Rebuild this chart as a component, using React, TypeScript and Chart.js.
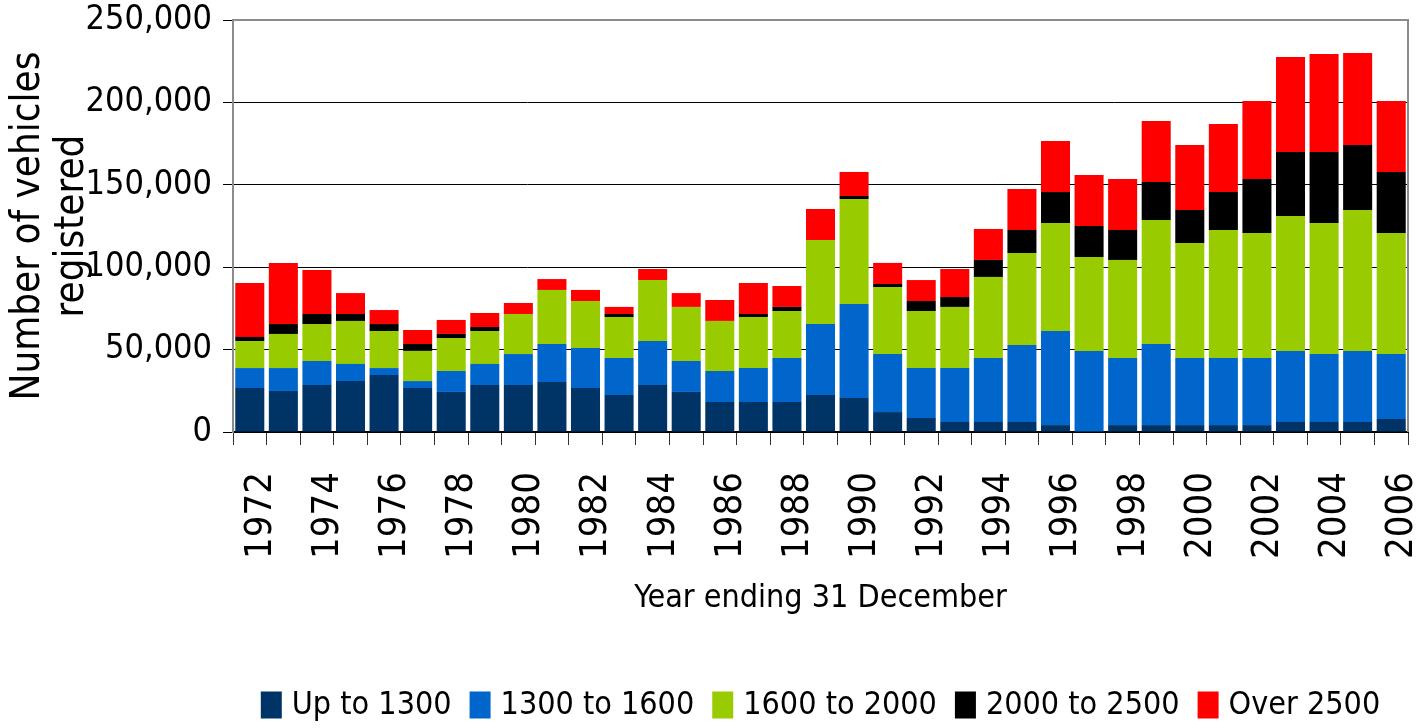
import React, { useEffect, useRef } from 'react';
import { Chart, registerables } from 'chart.js';

Chart.register(...registerables);

const years = [
  '1972', '1973', '1974', '1975', '1976', '1977', '1978', '1979', '1980', '1981',
  '1982', '1983', '1984', '1985', '1986', '1987', '1988', '1989', '1990', '1991',
  '1992', '1993', '1994', '1995', '1996', '1997', '1998', '1999', '2000', '2001',
  '2002', '2003', '2004', '2005', '2006',
];

const upTo1300 = [
  26700, 24900, 28500, 30900, 34600, 26700, 24300, 28500, 28500, 30300,
  26700, 22500, 28500, 24300, 18200, 18200, 18200, 22500, 20600, 12100,
  8500, 6100, 6100, 6100, 4200, 0, 4200, 4200, 4200, 4200,
  4200, 6100, 6100, 6100, 7900,
];

const from1300to1600 = [
  12100, 13900, 14600, 10400, 4200, 4200, 12700, 12800, 18800, 23100,
  24300, 22400, 26700, 18800, 18800, 20600, 26700, 43000, 57100, 35200,
  30300, 32700, 38800, 46700, 57100, 49200, 40700, 49200, 40700, 40700,
  40700, 43100, 41200, 43100, 39400,
];

const from1600to2000 = [
  16400, 20700, 22400, 26100, 22500, 18300, 20000, 20000, 24300, 32800,
  28500, 24900, 37000, 32800, 30400, 31000, 28500, 51000, 63700, 40700,
  34600, 37100, 49200, 55800, 65500, 57000, 59500, 75200, 69800, 77700,
  75900, 81900, 79500, 85500, 73500,
];

const from2000to2500 = [
  2500, 6000, 6100, 4200, 4200, 4200, 2500, 2400, 0, 0,
  0, 1800, 0, 0, 0, 1800, 2500, 0, 1800, 1800,
  6100, 6000, 10300, 14000, 18800, 18800, 18200, 23100, 20000, 23000,
  32700, 38800, 43100, 39500, 37000,
];

const over2500 = [
  32700, 37100, 26700, 12700, 8500, 8500, 8500, 8500, 6700, 6600,
  6700, 4300, 6700, 8400, 12700, 18800, 12700, 18800, 14600, 12800,
  12700, 17000, 18800, 24900, 31000, 30900, 30900, 37000, 39500, 41300,
  47400, 57700, 59500, 55800, 43100,
];

const seriesNames = ['Up to 1300', '1300 to 1600', '1600 to 2000', '2000 to 2500', 'Over 2500'];
const seriesColors = ['#003366', '#0066CC', '#99CC00', '#000000', '#FF0000'];
const yTicks = [0, 50000, 100000, 150000, 200000, 250000];

const FONT = '"DejaVu Sans Condensed", "Liberation Sans Narrow", "DejaVu Sans", sans-serif';

export default function App() {
  const ref = useRef<HTMLCanvasElement>(null);

  useEffect(() => {
    if (!ref.current) return;
    Chart.defaults.font.family = FONT;
    Chart.defaults.color = '#000';

    const framePlugin = {
      id: 'frame',
      afterDatasetsDraw(chart: any) {
        const { ctx, chartArea } = chart;
        ctx.save();
        ctx.strokeStyle = '#8c8c8c';
        ctx.lineWidth = 2;
        ctx.beginPath();
        ctx.moveTo(chartArea.left, chartArea.top);
        ctx.lineTo(chartArea.right, chartArea.top);
        ctx.lineTo(chartArea.right, chartArea.bottom);
        ctx.stroke();
        ctx.restore();
      },
    };

    // Legend drawn from the chart's own datasets, laid out like the original
    const legendPlugin = {
      id: 'customLegend',
      afterDraw(chart: any) {
        const { ctx, chartArea } = chart;
        const boxW = 21;
        const boxH = 27;
        const gapBoxText = 10;
        const gapItems = 18;
        const cy = 705;
        ctx.save();
        ctx.font = `32px ${FONT}`;
        ctx.textBaseline = 'middle';
        ctx.textAlign = 'left';
        const items = chart.data.datasets.map((ds: any) => ({
          text: ds.label,
          color: ds.backgroundColor,
          w: ctx.measureText(ds.label).width,
        }));
        const total =
          items.reduce((s: number, it: any) => s + boxW + gapBoxText + it.w, 0) +
          gapItems * (items.length - 1);
        let x = (chartArea.left + chartArea.right) / 2 - total / 2;
        items.forEach((it: any) => {
          ctx.fillStyle = it.color;
          ctx.fillRect(x, cy - boxH / 2, boxW, boxH);
          x += boxW + gapBoxText;
          ctx.fillStyle = '#000';
          ctx.fillText(it.text, x, cy + 1);
          x += it.w + gapItems;
        });
        ctx.restore();
      },
    };

    const values = [upTo1300, from1300to1600, from1600to2000, from2000to2500, over2500];

    const chart = new Chart(ref.current, {
      type: 'bar',
      data: {
        labels: years,
        datasets: values.map((d, i) => ({
          label: seriesNames[i],
          data: d,
          backgroundColor: seriesColors[i],
          borderWidth: 0,
          categoryPercentage: 1,
          barPercentage: 0.865,
        })),
      },
      options: {
        responsive: false,
        animation: false,
        layout: { padding: { left: 0, right: 18, top: 20, bottom: 46 } },
        plugins: {
          legend: { display: false },
          tooltip: { enabled: false },
        },
        scales: {
          x: {
            stacked: true,
            afterFit(scale: any) {
              scale.height = 250;
              scale.paddingLeft = 0;
              scale.paddingRight = 0;
            },
            grid: {
              offset: true,
              drawOnChartArea: false,
              drawTicks: true,
              tickLength: 13,
              color: '#333',
            },
            border: { display: true, color: '#000', width: 2 },
            ticks: {
              autoSkip: false,
              maxRotation: 90,
              minRotation: 90,
              padding: 27,
              labelOffset: 11,
              color: '#000',
              font: { size: 38, family: FONT, lineHeight: 1.2 },
              callback: (_v: any, i: number) => (i % 2 === 0 ? years[i] : ''),
            },
            title: {
              display: true,
              text: 'Year ending 31 December',
              color: '#000',
              font: { size: 32, family: FONT, lineHeight: 1.2 },
              padding: { top: 0, bottom: 64 },
            },
          },
          y: {
            stacked: true,
            min: 0,
            max: 250000,
            afterFit(scale: any) {
              scale.width = 233;
              scale.paddingTop = 0;
              scale.paddingBottom = 0;
            },
            afterBuildTicks(scale: any) {
              scale.ticks = yTicks.map((v) => ({ value: v }));
            },
            grid: {
              color: '#000',
              lineWidth: 1,
              drawTicks: true,
              tickLength: 10,
            },
            border: { display: true, color: '#8c8c8c', width: 2 },
            ticks: {
              padding: 11,
              color: '#000',
              font: { size: 34, family: FONT, lineHeight: 1 },
              callback: (v: any) => Number(v).toLocaleString('en-US'),
            },
            title: {
              display: true,
              text: ['Number of vehicles', 'registered'],
              color: '#000',
              font: { size: 40, family: FONT, lineHeight: 1.1 },
              padding: { top: 7, bottom: 0 },
            },
          },
        },
      },
      plugins: [framePlugin, legendPlugin],
    } as any);

    return () => chart.destroy();
  }, []);

  return (
    <div
      style={{
        position: 'fixed',
        left: 0,
        top: 0,
        width: 1426,
        height: 728,
        overflow: 'hidden',
        background: '#fff',
      }}
    >
      <canvas ref={ref} width={1426} height={728} style={{ display: 'block' }} />
    </div>
  );
}
